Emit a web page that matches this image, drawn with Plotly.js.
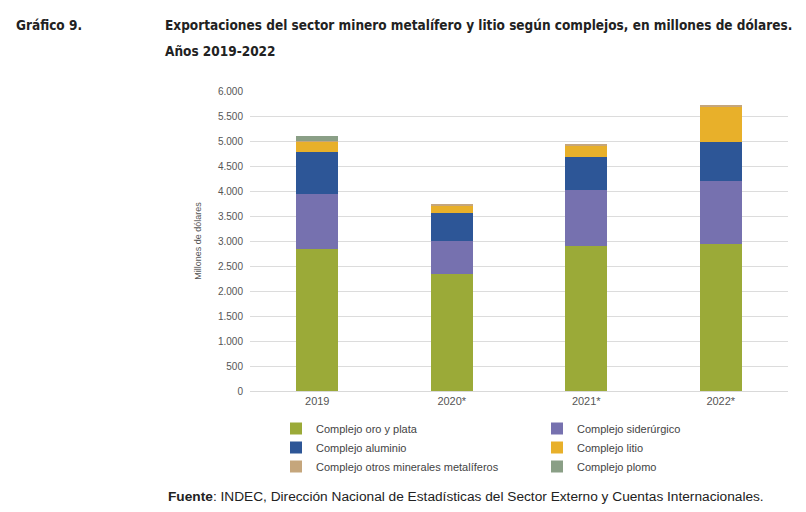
<!DOCTYPE html>
<html>
<head>
<meta charset="utf-8">
<script src="https://cdn.plot.ly/plotly-3.0.1.min.js"></script>
<style>
  body { margin: 0; background: #fff; }
  #chart { width: 806px; height: 512px; }
</style>
</head>
<body>
<div id="chart"></div>
<script>
const years = ['2019', '2020*', '2021*', '2022*'];

const oroPlata = [2840, 2350, 2900, 2950];
const siderurgico = [1110, 650, 1120, 1250];
const aluminio = [830, 570, 660, 780];
const litio = [200, 145, 220, 705];
const otros = [25, 25, 40, 20];
const plomo = [105, 0, 0, 0];

const seriesNames = [
    'Complejo oro y plata',
    'Complejo siderúrgico',
    'Complejo aluminio',
    'Complejo litio',
    'Complejo otros minerales metalíferos',
    'Complejo plomo'
];
const seriesValues = [oroPlata, siderurgico, aluminio, litio, otros, plomo];
const seriesColors = ['#9BAA38', '#7671AF', '#2D5697', '#E8B02A', '#C5A67C', '#8A9F86'];

const data = seriesNames.map((name, i) => ({
    x: years,
    y: seriesValues[i],
    name: name,
    type: 'bar',
    marker: {color: seriesColors[i]},
    hoverinfo: 'name+y'
}));

const plotW = 806 - 250 - 18;
const plotH = 512 - 91 - 121;
function px(x) { return (x - 250) / plotW; }
function py(y) { return (391 - y) / plotH; }

const headFont = {family: 'DejaVu Sans Condensed, Liberation Sans, sans-serif', size: 13.5, color: '#222'};

const layout = {
    width: 806,
    height: 512,
    margin: {l: 250, r: 18, t: 91, b: 121, autoexpand: false},
    paper_bgcolor: '#fff',
    plot_bgcolor: '#fff',
    font: {family: 'Liberation Sans, Arial, sans-serif', color: '#555', size: 10},
    separators: ',.',
    barmode: 'stack',
    bargap: 0.69,
    showlegend: true,
    legend: {
        orientation: 'h',
        xref: 'container', yref: 'container',
        x: 276 / 806, xanchor: 'left',
        y: 1 - 414 / 512, yanchor: 'top',
        entrywidth: 216,
        entrywidthmode: 'pixels',
        itemwidth: 30,
        font: {size: 11, color: '#444'},
        traceorder: 'normal'
    },
    xaxis: {
        type: 'category',
        showgrid: false,
        showline: true,
        linecolor: '#d9d9d9',
        ticks: '',
        tickfont: {size: 11, color: '#555'}
    },
    yaxis: {
        range: [0, 6000],
        dtick: 500,
        tickformat: ',d',
        gridcolor: '#dcdcdc',
        zeroline: false,
        ticks: '',
        ticklabelstandoff: 6,
        tickfont: {size: 10, color: '#555'},
        title: {text: 'Millones de dólares', font: {size: 9, color: '#555'}, standoff: 14}
    },
    annotations: [
        {
            text: '<b>Gráfico 9.</b>',
            xref: 'paper', yref: 'paper', x: px(14), y: py(25),
            xanchor: 'left', yanchor: 'middle', showarrow: false,
            font: headFont
        },
        {
            text: '<b>Exportaciones del sector minero metalífero y litio según complejos, en millones de dólares.</b>',
            xref: 'paper', yref: 'paper', x: px(163), y: py(25),
            xanchor: 'left', yanchor: 'middle', showarrow: false,
            font: headFont
        },
        {
            text: '<b>Años 2019-2022</b>',
            xref: 'paper', yref: 'paper', x: px(163), y: py(51),
            xanchor: 'left', yanchor: 'middle', showarrow: false,
            font: headFont
        },
        {
            text: '<b>Fuente</b>: INDEC, Dirección Nacional de Estadísticas del Sector Externo y Cuentas Internacionales.',
            xref: 'paper', yref: 'paper', x: px(166), y: py(496),
            xanchor: 'left', yanchor: 'middle', showarrow: false,
            font: {family: 'Liberation Sans, Arial, sans-serif', size: 13.7, color: '#222'}
        }
    ]
};

Plotly.newPlot('chart', data, layout, {displayModeBar: false});
</script>
</body>
</html>
